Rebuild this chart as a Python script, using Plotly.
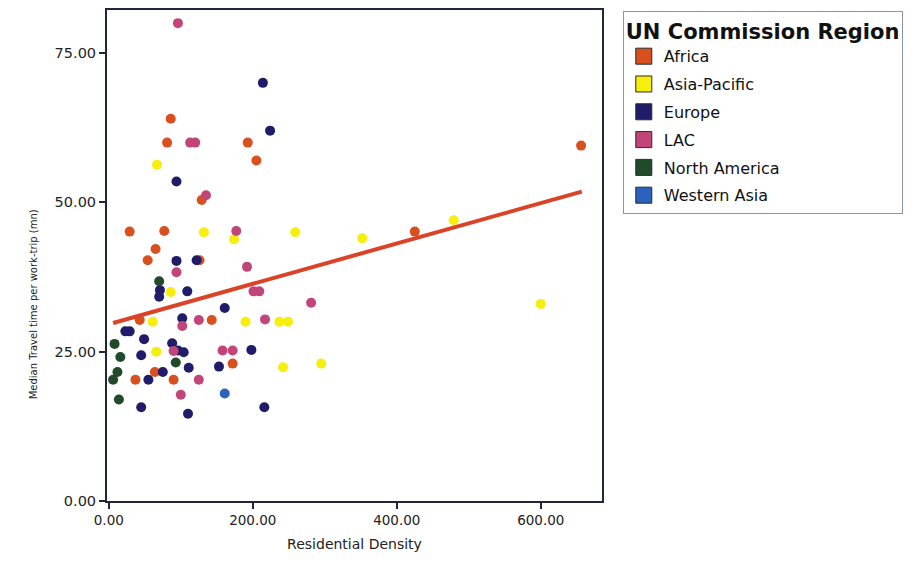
import plotly.graph_objects as go

# Residential density vs. median travel time per work-trip, by UN Commission Region
regions = ["Africa", "Asia-Pacific", "Europe", "LAC", "North America", "Western Asia"]
colors = ["#d9501f", "#f6ee0c", "#201c6a", "#c2457a", "#214a2b", "#2a62bd"]

africa_x = [86, 81, 193, 205, 129, 29, 77, 65, 54, 126, 43, 143, 37, 64, 90, 172, 425, 656]
africa_y = [64, 60, 60, 57, 50.4, 45.1, 45.2, 42.2, 40.3, 40.3, 30.3, 30.3, 20.3, 21.6, 20.3, 23, 45.1, 59.5]

asia_x = [67, 132, 259, 174, 86, 61, 190, 237, 249, 66, 242, 295, 352, 479, 600]
asia_y = [56.3, 45, 45, 43.8, 35, 30, 30, 30, 30, 25, 22.4, 23, 44, 47, 33]

europe_x = [214, 224, 94, 94, 122, 71, 70, 109, 102, 161, 23, 29, 49, 45, 88, 96, 104, 198,
            111, 153, 55, 75, 45, 110, 216]
europe_y = [70, 62, 53.5, 40.2, 40.3, 35.3, 34.2, 35.1, 30.6, 32.3, 28.4, 28.4, 27.1, 24.4, 26.4,
            25.2, 24.9, 25.3, 22.3, 22.5, 20.3, 21.6, 15.7, 14.6, 15.7]

lac_x = [96, 113, 120, 135, 177, 94, 192, 201, 209, 102, 125, 217, 281, 90, 158, 172, 125, 100]
lac_y = [80, 60, 60, 51.2, 45.2, 38.3, 39.2, 35.1, 35.1, 29.3, 30.3, 30.4, 33.2, 25.1, 25.2, 25.2,
         20.3, 17.8]

north_america_x = [70, 8, 16, 93, 6, 12, 14]
north_america_y = [36.8, 26.3, 24.1, 23.2, 20.3, 21.6, 17]

western_asia_x = [161]
western_asia_y = [18]

# Linear fit line (total), endpoints at the data's x extent
fit_x = [6, 657]
fit_y = [29.8, 51.8]

x_ticks = [0, 200, 400, 600]
y_ticks = [0, 25, 50, 75]

series = [
    (africa_x, africa_y),
    (asia_x, asia_y),
    (europe_x, europe_y),
    (lac_x, lac_y),
    (north_america_x, north_america_y),
    (western_asia_x, western_asia_y),
]

fig = go.Figure()

for name, color, (xs, ys) in zip(regions, colors, series):
    fig.add_trace(go.Scatter(
        x=xs, y=ys, mode="markers", name=name, showlegend=False,
        marker=dict(color=color, size=10, line=dict(width=0)),
    ))

fig.add_trace(go.Scatter(
    x=fit_x, y=fit_y, mode="lines", showlegend=False,
    line=dict(color="#da4327", width=4),
))

# Square swatches for the legend
for i, (name, color) in enumerate(zip(regions, colors)):
    fig.add_trace(go.Scatter(
        x=[None], y=[None], mode="markers", name=name, legendgroup=f"g{i}",
        marker=dict(symbol="square", color=color, size=16, line=dict(color="#2a2a2a", width=1)),
    ))

axis_common = dict(
    showgrid=False, zeroline=False, showline=True, mirror=True,
    linecolor="#22253d", linewidth=2, ticks="outside", ticklen=6,
    tickcolor="#22253d", tickwidth=2, tickformat=".2f",
)

fig.update_layout(
    width=924, height=566,
    margin=dict(l=107, r=322, t=8, b=65),
    paper_bgcolor="white", plot_bgcolor="white",
    xaxis=dict(range=[-2.5, 685], tickvals=x_ticks, **axis_common,
               tickfont=dict(family="DejaVu Sans", size=13.5, color="#222"),
               title=dict(text="Residential Density", standoff=12,
                          font=dict(family="DejaVu Sans", size=14, color="#222"))),
    yaxis=dict(range=[0, 82.2], tickvals=y_ticks, **axis_common,
               tickfont=dict(family="DejaVu Sans", size=14.5, color="#222")),
    legend=dict(
        x=1.042, xanchor="left", y=0.998, yanchor="top",
        bordercolor="#8b93b5", borderwidth=1, bgcolor="white",
        font=dict(family="DejaVu Sans", size=16, color="#111"),
        title=dict(text="<b>UN Commission Region</b>",
                   font=dict(family="DejaVu Sans", size=21, color="#111")),
        tracegroupgap=4,
    ),
    annotations=[dict(
        text="Median Travel time per work-trip (mn)", textangle=-90,
        xref="paper", yref="paper", x=-0.148, y=0.40, xanchor="center", yanchor="middle",
        showarrow=False, font=dict(family="DejaVu Sans", size=10, color="#222"),
    )],
)

fig.write_html("out.html")
